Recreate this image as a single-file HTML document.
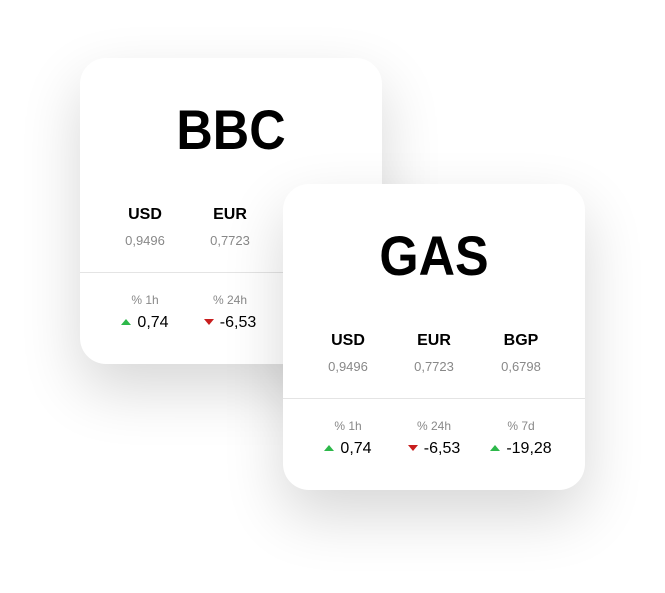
<!DOCTYPE html>
<html><head><style>
body{margin:0;width:665px;height:593px;background:#fff;position:relative;overflow:hidden;font-family:"Liberation Sans",sans-serif}
.card{position:absolute;width:302px;height:306px;background:#fff;border-radius:26px;box-shadow:0 25px 60px rgba(0,0,0,0.16)}
.t{position:absolute;left:0;width:302px;text-align:center;font-weight:bold;font-size:56px;top:39px;color:#000;transform:scaleX(0.9)}
.c{position:absolute;width:90px;margin-left:-45px;text-align:center}
.h{font-weight:bold;font-size:16px;color:#000}
.v{font-size:13px;color:#888}
.p{font-size:12px;color:#888}
.n{font-size:16px;color:#000}
.div{position:absolute;left:0;width:302px;top:214px;height:1px;background:#e4e4e4}
.up{display:inline-block;width:0;height:0;border-left:5px solid transparent;border-right:5px solid transparent;border-bottom:6px solid #2db84a;margin-right:6px;vertical-align:2px}
.dn{display:inline-block;width:0;height:0;border-left:5px solid transparent;border-right:5px solid transparent;border-top:6px solid #c81e1e;margin-right:6px;vertical-align:2px}
</style></head><body>
<div class="card" style="left:80px;top:58px">
<div class="t">BBC</div>
<div class="c h" style="left:65px;top:148px">USD</div>
<div class="c h" style="left:150px;top:148px">EUR</div>
<div class="c v" style="left:65px;top:175px">0,9496</div>
<div class="c v" style="left:150px;top:175px">0,7723</div>
<div class="div"></div>
<div class="c p" style="left:65px;top:235px">% 1h</div>
<div class="c p" style="left:150px;top:235px">% 24h</div>
<div class="c n" style="left:65px;top:256px"><span class="up"></span>0,74</div>
<div class="c n" style="left:150px;top:256px"><span class="dn"></span>-6,53</div>
</div>
<div class="card" style="left:283px;top:184px">
<div class="t">GAS</div>
<div class="c h" style="left:65px;top:148px">USD</div>
<div class="c h" style="left:151px;top:148px">EUR</div>
<div class="c h" style="left:238px;top:148px">BGP</div>
<div class="c v" style="left:65px;top:175px">0,9496</div>
<div class="c v" style="left:151px;top:175px">0,7723</div>
<div class="c v" style="left:238px;top:175px">0,6798</div>
<div class="div"></div>
<div class="c p" style="left:65px;top:235px">% 1h</div>
<div class="c p" style="left:151px;top:235px">% 24h</div>
<div class="c p" style="left:238px;top:235px">% 7d</div>
<div class="c n" style="left:65px;top:256px"><span class="up"></span>0,74</div>
<div class="c n" style="left:151px;top:256px"><span class="dn"></span>-6,53</div>
<div class="c n" style="left:238px;top:256px"><span class="up"></span>-19,28</div>
</div>
</body></html>
